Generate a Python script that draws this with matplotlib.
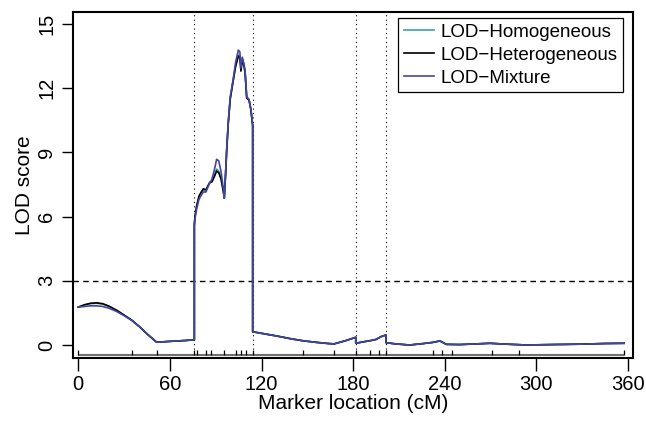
import matplotlib
matplotlib.use("Agg")
import matplotlib.pyplot as plt
import numpy as np

plt.rcParams['font.family'] = ['Liberation Sans', 'DejaVu Sans']

# ---- data ----
pos = [0, 4, 8, 12, 16, 20, 25, 30, 35, 40, 45, 51.3, 60, 70, 76,
       76, 76.4, 77.5, 79, 80.5, 81.9, 83.6, 85, 86.2, 87.5, 89, 90.6, 92, 93.5, 95, 95.6,
       96.4, 97.2, 98.2, 99.5, 101.5, 103, 104.8, 105.8, 106.5, 107.4, 108.3, 109.2, 110.3, 111.8, 113, 114.2,
       114.2, 122, 130, 140, 147, 155, 162, 167.4, 175, 181.7,
       181.7, 186, 191, 195, 198, 201.5,
       201.5, 208, 217, 225, 232, 236.9, 241, 250, 260, 269.6, 280, 293.6, 310, 330, 345, 357.5]

lod_het = [1.77, 1.88, 1.95, 1.97, 1.93, 1.82, 1.63, 1.40, 1.16, 0.86, 0.52, 0.13, 0.17, 0.21, 0.24,
           5.6, 6.0, 6.5, 6.95, 7.15, 7.30, 7.25, 7.45, 7.60, 7.62, 7.85, 8.13, 8.05, 7.75, 7.15, 6.86,
           7.9, 9.1, 10.36, 11.5, 12.38, 13.0, 13.5, 13.45, 12.8, 13.35, 13.1, 12.75, 11.53, 11.45, 11.0, 10.25,
           0.62, 0.52, 0.42, 0.28, 0.20, 0.13, 0.08, 0.05, 0.20, 0.36,
           0.08, 0.14, 0.20, 0.26, 0.38, 0.47,
           0.11, 0.05, 0.00, 0.06, 0.12, 0.19, 0.03, 0.02, 0.05, 0.08, 0.04, 0.00, 0.02, 0.04, 0.07, 0.08]

lod_hom = [1.77, 1.87, 1.93, 1.95, 1.91, 1.80, 1.62, 1.39, 1.16, 0.86, 0.52, 0.13, 0.17, 0.21, 0.24,
           5.6, 6.0, 6.45, 6.9, 7.1, 7.25, 7.22, 7.45, 7.60, 7.64, 7.9, 8.22, 8.12, 7.8, 7.2, 6.88,
           7.9, 9.1, 10.36, 11.5, 12.4, 13.05, 13.55, 13.5, 12.85, 13.38, 13.12, 12.78, 11.55, 11.46, 11.0, 10.25,
           0.62, 0.52, 0.42, 0.28, 0.20, 0.13, 0.08, 0.05, 0.20, 0.36,
           0.08, 0.14, 0.20, 0.26, 0.38, 0.47,
           0.11, 0.05, 0.00, 0.06, 0.12, 0.19, 0.03, 0.02, 0.05, 0.08, 0.04, 0.00, 0.02, 0.04, 0.07, 0.08]

lod_mix = [1.77, 1.80, 1.83, 1.83, 1.80, 1.72, 1.57, 1.37, 1.15, 0.86, 0.52, 0.13, 0.17, 0.21, 0.24,
           5.6, 5.9, 6.35, 6.8, 7.0, 7.15, 7.15, 7.40, 7.58, 7.75, 8.15, 8.68, 8.6, 8.1, 7.3, 6.86,
           7.95, 9.2, 10.4, 11.6, 12.45, 13.2, 13.78, 13.7, 12.95, 13.45, 13.2, 12.85, 11.6, 11.48, 11.05, 10.28,
           0.62, 0.52, 0.42, 0.28, 0.20, 0.13, 0.08, 0.05, 0.20, 0.36,
           0.08, 0.14, 0.20, 0.26, 0.38, 0.47,
           0.11, 0.05, 0.00, 0.06, 0.12, 0.19, 0.03, 0.02, 0.05, 0.08, 0.04, 0.00, 0.02, 0.04, 0.07, 0.08]

markers = [0, 35, 51.3, 76, 77.5, 83.6, 86.9, 95.6, 103, 106.5, 109.6, 114.2,
           146.9, 167.4, 181.7, 191, 197, 201.5, 232, 238.4, 244.9, 271.1, 288.6, 357.6]
boundaries = [76, 114.2, 181.7, 201.5]
threshold = 3
xticks = [0, 60, 120, 180, 240, 300, 360]
yticks = [0, 3, 6, 9, 12, 15]

# ---- figure ----
W, H = 646, 421
fig = plt.figure(figsize=(W / 100, H / 100), dpi=100)
l, r, t, b = 72.7, 633.3, 12, 358.3
ax = fig.add_axes([l / W, 1 - b / H, (r - l) / W, (b - t) / H])

# pixel mapping: x 0 -> 78.3, 360 -> 628 ; y 0 -> 345, 15 -> 24
sx = (628 - 78.3) / 360.0
sy = (345 - 24) / 15.0
ax.set_xlim((l - 78.3) / sx, (r - 78.3) / sx)
ax.set_ylim((345 - b) / sy, (345 - t) / sy)

for xb in boundaries:
    ax.axvline(xb, color='black', lw=0.8, ls=(0, (1, 3)), zorder=1)
ax.axhline(threshold, color='black', lw=1.0, ls=(0, (4, 3)), zorder=1)

c_hom = '#3AA3A3'
c_het = '#000000'
c_mix = '#4545A0'
ax.plot(pos, lod_hom, color=c_hom, lw=1.2, label='LOD\u2212Homogeneous', zorder=3)
ax.plot(pos, lod_het, color=c_het, lw=1.2, label='LOD\u2212Heterogeneous', zorder=3)
ax.plot(pos, lod_mix, color=c_mix, lw=1.2, label='LOD\u2212Mixture', zorder=4)

# marker rug
rug_y = (345 - 354.5) / sy
rug_top = (345 - 349.5) / sy
ax.plot([markers[0], markers[-1]], [rug_y, rug_y], color='#707070', lw=1.5,
        solid_capstyle='butt', zorder=2)
ax.vlines(markers, rug_y, rug_top, color='black', lw=0.9, zorder=2)

ax.set_xticks(xticks)
ax.set_yticks(yticks)
ax.set_yticklabels([str(v) for v in yticks], rotation=90, va='center')
ax.tick_params(axis='x', length=9, width=1, labelsize=14.5, pad=3)
ax.tick_params(axis='y', length=8, width=1, labelsize=14.5, pad=4)
for s in ax.spines.values():
    s.set_linewidth(1.5)

ax.set_xlabel('Marker location (cM)', fontsize=15, labelpad=0)
ax.set_ylabel('LOD score', fontsize=15)
ax.yaxis.set_label_coords((34 - l) / (r - l), 0.5)

leg = ax.legend(loc='upper right', bbox_to_anchor=(622.7 / W, 1 - 18.3 / H),
                bbox_transform=fig.transFigure, borderaxespad=0,
                fontsize=13.5, frameon=True, fancybox=False, framealpha=1,
                handlelength=1.65, handletextpad=0.3, labelspacing=0.3,
                borderpad=0.3)
leg.get_frame().set_edgecolor('black')
leg.get_frame().set_linewidth(0.9)

fig.savefig('out.png', dpi=100)
